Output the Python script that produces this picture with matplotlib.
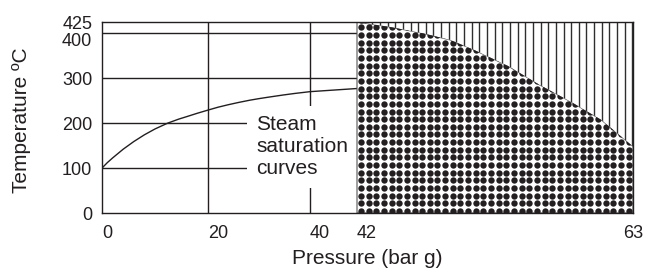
import numpy as np
import matplotlib
matplotlib.use('Agg')
import matplotlib.pyplot as plt
from matplotlib.patches import Polygon
from matplotlib.transforms import ScaledTranslation

# axis ticks
pressure_ticks = [0, 20, 40, 42, 63]
temperature_ticks = [0, 100, 200, 300, 400, 425]

# steam saturation curve (bar g, deg C)
sat_pressure = [0, 1, 2, 4, 6, 8, 10, 12.4, 14.5, 16, 18, 20, 22, 24,
                26, 28.2, 30, 32, 34.7, 37, 40, 42]
sat_temp = [100, 112, 122.5, 142, 159, 174, 187, 200, 209, 214.5, 222, 229, 235.5, 241,
            246, 251, 254.5, 258, 262.5, 266, 270, 277]

# upper limit of the dotted region from 42 to 63 bar g
limit_pressure = [42, 44.5, 47, 49.1, 50.9, 53.5, 55.9, 58.3, 60.6, 63]
limit_temp = [425, 414, 400, 385, 363, 327, 285, 247, 207, 148]

# pressure axis is not drawn to scale: breakpoints and relative positions
axis_breaks = [0, 20, 40, 42, 63]
axis_pos = [0, 106, 208, 255, 531]

ink = '#231f20'
plt.rcParams['font.family'] = ['Liberation Sans', 'DejaVu Sans']


def fwd(x):
    return np.interp(x, axis_breaks, axis_pos)


def inv(x):
    return np.interp(x, axis_pos, axis_breaks)


fig = plt.figure(figsize=(6.49, 2.74), dpi=100)
ax = fig.add_axes([102 / 649, 61 / 274, 531 / 649, 191 / 274])
ax.set_xscale('function', functions=(fwd, inv))
ax.set_xlim(0, 63)
ax.set_ylim(0, 425)

# grid in the left part only
ax.hlines(temperature_ticks[1:-1], 0, 42, color=ink, lw=1.0, zorder=1)
ax.vlines(pressure_ticks[1:3], 0, 425, color=ink, lw=1.0, zorder=1)

ax.plot(sat_pressure, sat_temp, color=ink, lw=1.0, zorder=2)

ax.text(29.4, 217, 'Steam\nsaturation\ncurves', fontsize=15, color=ink,
        va='top', ha='left', zorder=2.5,
        bbox=dict(boxstyle='square,pad=0.45', fc='white', ec='none'))

# dotted region below the limit curve, hatched region above it
lower = list(zip(limit_pressure, limit_temp)) + [(63, 0), (42, 0)]
upper = list(zip(limit_pressure, limit_temp)) + [(63, 425), (42, 425)]
dots_patch = Polygon(lower, closed=True, fc='white', ec='#555555', lw=0.8, zorder=3)
hatch_patch = Polygon(upper, closed=True, fc='white', ec='none', zorder=3)
ax.add_patch(dots_patch)
ax.add_patch(hatch_patch)

left, bottom = ax.transData.transform((42, 0))
right, top = ax.transData.transform((63, 425))
step = 7.65 * fig.dpi / 100
gx, gy = np.meshgrid(np.arange(left + 4, right, step),
                     np.arange(bottom + 2, top + step, step))
pts = ax.transData.inverted().transform(np.column_stack([gx.ravel(), gy.ravel()]))
sc = ax.scatter(pts[:, 0], pts[:, 1], s=21, color=ink, linewidths=0, zorder=4)
sc.set_clip_path(dots_patch)

line_px = np.arange(left + step, right + 1, step)
line_x = ax.transData.inverted().transform(np.column_stack([line_px, np.zeros_like(line_px)]))[:, 0]
vl = ax.vlines(line_x, 0, 425, color='#2e2e2e', lw=1.0, zorder=4)
vl.set_clip_path(hatch_patch)

for sp in ax.spines.values():
    sp.set_color(ink)
    sp.set_linewidth(1.0)
    sp.set_zorder(5)

ax.set_xticks(pressure_ticks)
ax.set_yticks(temperature_ticks)
ax.xaxis.set_minor_locator(matplotlib.ticker.NullLocator())
ax.tick_params(length=0, labelsize=13, labelcolor=ink)
ax.tick_params(axis='x', pad=8.5)
ax.tick_params(axis='y', pad=7)

for lbl in ax.get_xticklabels()[:-1]:
    lbl.set_ha('left')
ylbls = ax.get_yticklabels()
ylbls[4].set_transform(ylbls[4].get_transform() + ScaledTranslation(0, -0.06, fig.dpi_scale_trans))

fig.text(22 / 649, 1 - 120 / 274, 'Temperature \u00baC', rotation=90, fontsize=15,
         color=ink, ha='center', va='center')
fig.text(367 / 649, 1 - 258 / 274, 'Pressure (bar g)', fontsize=15,
         color=ink, ha='center', va='center')

fig.savefig('out.png', dpi=100)
